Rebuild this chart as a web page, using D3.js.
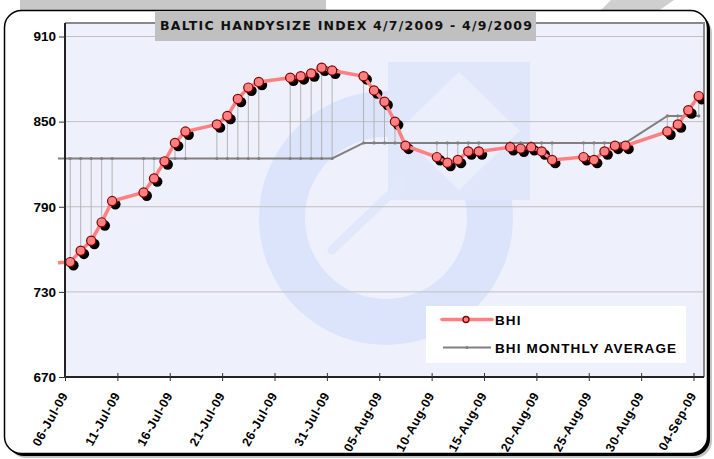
<!DOCTYPE html>
<html>
<head>
<meta charset="utf-8">
<script src="https://d3js.org/d3.v7.min.js"></script>
<style>
  body { margin: 0; background: #fff; }
  svg { display: block; font-family: "Liberation Sans", Arial, sans-serif; }
</style>
</head>
<body>
<svg width="714" height="459"></svg>
<script>
// ---- data ----
const dates = [
  "03-Jul-09",
  "06-Jul-09", "07-Jul-09", "08-Jul-09", "09-Jul-09", "10-Jul-09",
  "13-Jul-09", "14-Jul-09", "15-Jul-09", "16-Jul-09", "17-Jul-09",
  "20-Jul-09", "21-Jul-09", "22-Jul-09", "23-Jul-09", "24-Jul-09",
  "27-Jul-09", "28-Jul-09", "29-Jul-09", "30-Jul-09", "31-Jul-09",
  "03-Aug-09", "04-Aug-09", "05-Aug-09", "06-Aug-09", "07-Aug-09",
  "10-Aug-09", "11-Aug-09", "12-Aug-09", "13-Aug-09", "14-Aug-09",
  "17-Aug-09", "18-Aug-09", "19-Aug-09", "20-Aug-09", "21-Aug-09",
  "24-Aug-09", "25-Aug-09", "26-Aug-09", "27-Aug-09", "28-Aug-09",
  "01-Sep-09", "02-Sep-09", "03-Sep-09", "04-Sep-09"
];
const bhi = [
  750,
  751, 759, 766, 779, 794,
  800, 810, 822, 835, 843,
  848, 854, 866, 874, 878,
  881, 882, 884, 888, 886,
  882, 872, 864, 850, 833,
  825, 821, 823, 829, 829,
  832, 831, 832, 829, 823,
  825, 823, 829, 833, 833,
  843, 848, 858, 868
];
const monthlyAvg = [
  824,
  824, 824, 824, 824, 824,
  824, 824, 824, 824, 824,
  824, 824, 824, 824, 824,
  824, 824, 824, 824, 824,
  835, 835, 835, 835, 835,
  835, 835, 835, 835, 835,
  835, 835, 835, 835, 835,
  835, 835, 835, 835, 835,
  854, 854, 854, 854
];
const yTicks = [670, 730, 790, 850, 910];
const xStart = "06-Jul-09", xEnd = "05-Sep-09";
const titleText = "BALTIC HANDYSIZE INDEX 4/7/2009 - 4/9/2009";
const seriesNames = ["BHI", "BHI MONTHLY AVERAGE"];

// ---- layout ----
const svg = d3.select("svg");
const plot = { left: 65, top: 23, right: 704, bottom: 377 };
const parse = d3.utcParse("%d-%b-%y");
const fmt = d3.utcFormat("%d-%b-%y");
const HALF_DAY = 12 * 3600 * 1000;

const rows = dates.map((d, i) => ({ date: parse(d), bhi: bhi[i], avg: monthlyAvg[i] }));

const x = d3.scaleUtc().domain([parse(xStart), parse(xEnd)]).range([plot.left, plot.right]);
const y = d3.scaleLinear().domain([670, 910]).range([plot.bottom, 36.5]);
const px = d => x(new Date(d.date.getTime() + HALF_DAY));

// background logo bits behind the chart
svg.append("rect").attr("x", 20).attr("y", 0).attr("width", 306).attr("height", 14).attr("fill", "#c8c8c8");
svg.append("polygon").attr("points", "611,0 674,0 654,14 597,14").attr("fill", "#cfcfcf");

// chart frame with shadow
svg.append("rect").attr("x", 9).attr("y", 16).attr("width", 703).attr("height", 442)
  .attr("rx", 17).attr("fill", "#c4c4c4");
svg.append("rect").attr("x", 7).attr("y", 13).attr("width", 703).attr("height", 443)
  .attr("rx", 17).attr("fill", "#000");
svg.append("rect").attr("x", 4.5).attr("y", 10.5).attr("width", 703).attr("height", 443)
  .attr("rx", 17).attr("fill", "#fff").attr("stroke", "#000").attr("stroke-width", 1.5);

// plot area
svg.append("defs").append("clipPath").attr("id", "pclip")
  .append("rect").attr("x", plot.left).attr("y", plot.top)
  .attr("width", plot.right - plot.left).attr("height", plot.bottom - plot.top);
svg.select("defs").append("clipPath").attr("id", "lclip")
  .append("rect").attr("x", plot.left - 7).attr("y", plot.top)
  .attr("width", plot.right - plot.left + 7).attr("height", plot.bottom - plot.top);

svg.append("rect").attr("x", plot.left).attr("y", plot.top)
  .attr("width", plot.right - plot.left).attr("height", plot.bottom - plot.top)
  .attr("fill", "#eef0fc");

// faint watermark
const wm = svg.append("g").attr("clip-path", "url(#pclip)");
wm.append("circle").attr("cx", 386).attr("cy", 218).attr("r", 104)
  .attr("fill", "none").attr("stroke", "#dce4fb").attr("stroke-width", 46);
wm.append("rect").attr("x", 388).attr("y", 62).attr("width", 142).attr("height", 138)
  .attr("fill", "#e0e7fb");
wm.append("polygon").attr("points", "459,72 520,131 459,190 398,131")
  .attr("fill", "#ebeffc");
wm.append("line").attr("x1", 332).attr("y1", 250).attr("x2", 402).attr("y2", 183)
  .attr("stroke", "#e2e8fb").attr("stroke-width", 9).attr("stroke-linecap", "round");

// gridlines
svg.append("g").selectAll("line").data(yTicks.filter(t => t > 670)).join("line")
  .attr("x1", plot.left).attr("x2", plot.right)
  .attr("y1", d => y(d)).attr("y2", d => y(d))
  .attr("stroke", "#c0c0c0").attr("stroke-width", 1);

// plot border (top/right)
svg.append("path")
  .attr("d", `M${plot.left},${plot.top}H${plot.right}V${plot.bottom}`)
  .attr("fill", "none").attr("stroke", "#888").attr("stroke-width", 2);

// series
const g = svg.append("g").attr("clip-path", "url(#lclip)");
const shown = rows.filter(d => d.date >= parse(xStart));

// high-low lines
g.append("g").selectAll("line").data(shown).join("line")
  .attr("x1", px).attr("x2", px)
  .attr("y1", d => y(d.avg)).attr("y2", d => y(d.bhi))
  .attr("stroke", "#b4b4b4").attr("stroke-width", 1);

// monthly average
g.append("path").datum(rows)
  .attr("d", d3.line().x(px).y(d => y(d.avg)))
  .attr("fill", "none").attr("stroke", "#808080").attr("stroke-width", 2);
g.append("g").selectAll("circle").data(shown).join("circle")
  .attr("cx", px).attr("cy", d => y(d.avg)).attr("r", 1.6).attr("fill", "#808080");

// BHI
g.append("g").selectAll("circle").data(shown).join("circle")
  .attr("cx", d => px(d) + 3.2).attr("cy", d => y(d.bhi) + 3.2).attr("r", 5.2).attr("fill", "#000");
g.append("path").datum(rows)
  .attr("d", d3.line().x(px).y(d => y(d.bhi)))
  .attr("fill", "none").attr("stroke", "#ff8080").attr("stroke-width", 3.5);
g.append("g").selectAll("circle").data(shown).join("circle")
  .attr("cx", px).attr("cy", d => y(d.bhi)).attr("r", 4.6)
  .attr("fill", "#ff8080").attr("stroke", "#800000").attr("stroke-width", 1.2);

// axes
const yAxis = svg.append("g").attr("transform", `translate(${plot.left},0)`)
  .call(d3.axisLeft(y).tickValues(yTicks).tickSize(6).tickPadding(3).tickFormat(d3.format("d")));
yAxis.select(".domain").attr("stroke", "#222").attr("stroke-width", 2)
  .attr("d", `M0,${plot.top}V${plot.bottom}`);
yAxis.selectAll(".tick line").attr("stroke", "#333");
yAxis.selectAll(".tick text").attr("font-size", 13.5).attr("font-weight", "bold")
  .attr("fill", "#000").attr("font-family", "Liberation Sans, Arial, sans-serif");

const xTicks = d3.utcDay.range(parse(xStart), parse(xEnd), 1).filter((d, i) => i % 5 === 0);
const xAxis = svg.append("g").attr("transform", `translate(0,${plot.bottom})`)
  .call(d3.axisBottom(x).tickValues(xTicks).tickSize(5).tickFormat(fmt));
xAxis.select(".domain").attr("stroke", "#222").attr("stroke-width", 2)
  .attr("d", `M${plot.left},0H${plot.right}`);
xAxis.selectAll(".tick line").attr("stroke", "#333").attr("y1", -4).attr("y2", 4);
xAxis.selectAll(".tick text")
  .attr("font-size", 12.5).attr("font-weight", "bold").attr("fill", "#000")
  .attr("letter-spacing", 0.6)
  .attr("font-family", "Liberation Sans, Arial, sans-serif")
  .attr("text-anchor", "end").attr("dy", "0.35em")
  .attr("transform", "translate(-1,16) rotate(-61)").attr("x", 0).attr("y", 0);

// title
svg.append("rect").attr("x", 155).attr("y", 11).attr("width", 381).attr("height", 30).attr("fill", "#c0c0c0");
svg.append("text").attr("x", 160).attr("y", 30)
  .attr("font-family", "DejaVu Sans, Verdana, sans-serif").attr("font-weight", "bold")
  .attr("font-size", 12.5).attr("textLength", 372).attr("lengthAdjust", "spacing")
  .attr("fill", "#111").text(titleText);

// legend
const lg = svg.append("g");
lg.append("rect").attr("x", 426).attr("y", 306).attr("width", 260).attr("height", 57).attr("fill", "#fff");
lg.append("line").attr("x1", 442).attr("x2", 492).attr("y1", 319.5).attr("y2", 319.5)
  .attr("stroke", "#ff8080").attr("stroke-width", 3.5).attr("stroke-linecap", "round");
lg.append("circle").attr("cx", 466).attr("cy", 319.5).attr("r", 3)
  .attr("fill", "#ff8080").attr("stroke", "#800000").attr("stroke-width", 1.3);
lg.append("line").attr("x1", 443).attr("x2", 491).attr("y1", 347.5).attr("y2", 347.5)
  .attr("stroke", "#808080").attr("stroke-width", 2);
lg.append("circle").attr("cx", 467).attr("cy", 347.5).attr("r", 1.5).attr("fill", "#808080");
lg.selectAll("text").data(seriesNames).join("text")
  .attr("x", 495).attr("y", (d, i) => 324.5 + i * 28.5)
  .attr("font-size", 13.5).attr("font-weight", "bold").attr("letter-spacing", 1.1)
  .attr("fill", "#000").text(d => d);
</script>
</body>
</html>
